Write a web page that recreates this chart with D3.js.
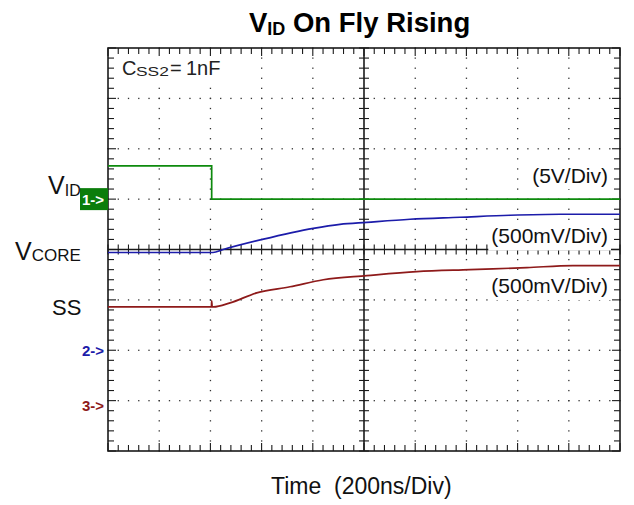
<!DOCTYPE html>
<html>
<head>
<meta charset="utf-8">
<script src="https://cdn.jsdelivr.net/npm/d3@7"></script>
<style>
  html, body { margin: 0; padding: 0; background: #fff; }
  svg { display: block; }
  text { font-family: "Liberation Sans", Arial, sans-serif; }
</style>
</head>
<body>
<svg id="chart" width="634" height="505"></svg>
<script>
// ---- data (time in ns, voltage in V) ----
const vidTime   = [0, 405, 405, 2000];
const vidVolt   = [3.3, 3.3, 0, 0];
const vcoreTime = [0, 410, 450, 603, 802, 906, 1011, 1180, 1375, 1570, 1766, 2000];
const vcoreVolt = [0.97, 0.97, 1.00, 1.10, 1.21, 1.25, 1.27, 1.30, 1.32, 1.34, 1.35, 1.35];
const ssTime    = [0, 404, 405, 407, 412, 477, 581, 711, 841, 1011, 1206, 1414, 1636, 1816, 2000];
const ssVolt    = [0.93, 0.93, 0.99, 0.93, 0.93, 0.97, 1.07, 1.13, 1.20, 1.24, 1.28, 1.30, 1.32, 1.34, 1.34];
const channelNames   = ["1->", "2->", "3->"];
const channelOffsets = [1, -2, -3];      // ground marker position in divisions
const channelScales  = [5, 0.5, 0.5];    // V per division
const scaleLabels    = ["(5V/Div)", "(500mV/Div)", "(500mV/Div)"];
const timeDomain = [0, 2000];             // 200 ns/div, 10 divisions
const divDomain  = [-4, 4];               // 8 vertical divisions

// ---- layout ----
const svg = d3.select("#chart");
const L = 108, R = 620, T = 48, B = 451;
const x = d3.scaleLinear().domain(timeDomain).range([L, R]);
const y = d3.scaleLinear().domain(divDomain).range([B, T]);
const green = "#0d8a0d", blue = "#1c1caa", red = "#8e1a1a", ink = "#1a1a1a";

const majorT = d3.range(0, 2001, 200);
const minorT = d3.range(0, 2001, 40);
const majorD = d3.range(-4, 4.001, 1);
const minorD = d3.range(-4, 4.001, 0.2).map(v => +v.toFixed(2));

// grid dots
const g = svg.append("g");
majorT.filter(t => t !== 0 && t !== 1000 && t !== 2000).forEach(t => {
  g.selectAll(null).data(minorD).enter().append("rect")
    .attr("x", x(t) - 0.6).attr("y", d => y(d) - 0.6).attr("width", 1.3).attr("height", 1.3).attr("fill", "#333");
});
majorD.filter(d => d !== -4 && d !== 0 && d !== 4).forEach(d => {
  g.selectAll(null).data(minorT).enter().append("rect")
    .attr("x", t => x(t) - 0.6).attr("y", y(d) - 0.6).attr("width", 1.3).attr("height", 1.3).attr("fill", "#333");
});

// frame
g.append("rect").attr("x", L).attr("y", T).attr("width", R - L).attr("height", B - T)
  .attr("fill", "none").attr("stroke", ink).attr("stroke-width", 1.6);

// edge ticks
const isMajT = t => t % 200 === 0;
const isMajD = d => Math.abs(d - Math.round(d)) < 1e-6;
g.selectAll(null).data(minorT).enter().append("line")
  .attr("x1", t => x(t)).attr("x2", t => x(t)).attr("y1", T).attr("y2", t => T + (isMajT(t) ? 8 : 6))
  .attr("stroke", ink).attr("stroke-width", 1.1);
g.selectAll(null).data(minorT).enter().append("line")
  .attr("x1", t => x(t)).attr("x2", t => x(t)).attr("y1", B).attr("y2", t => B - (isMajT(t) ? 8 : 6))
  .attr("stroke", ink).attr("stroke-width", 1.1);
g.selectAll(null).data(minorD).enter().append("line")
  .attr("y1", d => y(d)).attr("y2", d => y(d)).attr("x1", L).attr("x2", d => L + (isMajD(d) ? 8 : 6))
  .attr("stroke", ink).attr("stroke-width", 1.1);
g.selectAll(null).data(minorD).enter().append("line")
  .attr("y1", d => y(d)).attr("y2", d => y(d)).attr("x1", R).attr("x2", d => R - (isMajD(d) ? 8 : 6))
  .attr("stroke", ink).attr("stroke-width", 1.1);

// center crosshair
g.append("line").attr("x1", L).attr("x2", R).attr("y1", y(0)).attr("y2", y(0)).attr("stroke", ink).attr("stroke-width", 1.6);
g.append("line").attr("x1", x(1000)).attr("x2", x(1000)).attr("y1", T).attr("y2", B).attr("stroke", ink).attr("stroke-width", 1.6);
g.selectAll(null).data(minorT).enter().append("line")
  .attr("x1", t => x(t)).attr("x2", t => x(t)).attr("y1", y(0) - 5).attr("y2", y(0) + 5)
  .attr("stroke", ink).attr("stroke-width", 1.1);
g.selectAll(null).data(minorD).enter().append("line")
  .attr("y1", d => y(d)).attr("y2", d => y(d)).attr("x1", x(1000) - 5).attr("x2", x(1000) + 5)
  .attr("stroke", ink).attr("stroke-width", 1.1);

// scale labels with white backgrounds
const labelPos = [{b: 183, top: 164, h: 25}, {b: 243, top: 222, h: 28.5}, {b: 293, top: 270, h: 30}];
scaleLabels.forEach((s, i) => {
  const t = svg.append("text").attr("x", 608).attr("y", labelPos[i].b).attr("text-anchor", "end")
    .attr("font-size", 21).attr("fill", "#111").text(s);
  const bb = t.node().getBBox();
  svg.insert("rect", "text").attr("x", bb.x - 3).attr("y", labelPos[i].top)
    .attr("width", bb.width + 6).attr("height", labelPos[i].h).attr("fill", "#fff");
});

// traces
const series = [
  {t: vidTime, v: vidVolt, ch: 0, color: green, curve: d3.curveLinear},
  {t: vcoreTime, v: vcoreVolt, ch: 1, color: blue, curve: d3.curveMonotoneX},
  {t: ssTime, v: ssVolt, ch: 2, color: red, curve: d3.curveMonotoneX}
];
series.forEach(s => {
  const pts = s.t.map((t, i) => [t, s.v[i]]);
  const line = d3.line()
    .x(d => x(d[0]))
    .y(d => y(channelOffsets[s.ch] + d[1] / channelScales[s.ch]))
    .curve(s.curve);
  svg.append("path").attr("d", line(pts)).attr("fill", "none")
    .attr("stroke", s.color).attr("stroke-width", 1.7);
});

// channel markers
const m1 = y(channelOffsets[0]);
svg.append("path").attr("d", `M80,${m1 - 11}H108V${m1 + 11}H80Z`).attr("fill", "#0b7d0b");
svg.append("text").attr("x", 82).attr("y", m1 + 5.5).attr("font-size", 15).attr("font-weight", "bold").attr("fill", "#fff").text(channelNames[0]);
svg.append("text").attr("x", 82).attr("y", y(channelOffsets[1]) + 6).attr("font-size", 15).attr("font-weight", "bold").attr("fill", blue).text(channelNames[1]);
svg.append("text").attr("x", 82).attr("y", y(channelOffsets[2]) + 10.5).attr("font-size", 15).attr("font-weight", "bold").attr("fill", red).text(channelNames[2]);

// left labels
const vid = svg.append("text").attr("x", 48).attr("y", 194).attr("fill", "#111");
vid.append("tspan").attr("font-size", 25).text("V");
vid.append("tspan").attr("font-size", 16).attr("dy", 2).text("ID");
const vc = svg.append("text").attr("x", 15).attr("y", 260).attr("fill", "#111");
vc.append("tspan").attr("font-size", 25).text("V");
vc.append("tspan").attr("font-size", 17).attr("dy", 1).text("CORE");
svg.append("text").attr("x", 52).attr("y", 315).attr("font-size", 22).attr("fill", "#111").text("SS");

// Css2 label
svg.append("rect").attr("x", 120).attr("y", 57).attr("width", 104).attr("height", 24).attr("fill", "#fff");
svg.append("text").attr("x", 122).attr("y", 75).attr("font-size", 20).attr("fill", "#222").text("C");
svg.append("text").attr("transform", "translate(136,76) scale(1.45,1)").attr("font-size", 12).attr("fill", "#222").text("SS2");
svg.append("text").attr("x", 170).attr("y", 75).attr("font-size", 20).attr("fill", "#222").text("=");
svg.append("text").attr("x", 186).attr("y", 75).attr("font-size", 20).attr("fill", "#222").text("1nF");

// title
const title = svg.append("text").attr("x", 249).attr("y", 32).attr("font-weight", "bold").attr("fill", "#000");
title.append("tspan").attr("font-size", 27.5).text("V");
title.append("tspan").attr("font-size", 18).attr("dy", 3).text("ID");
title.append("tspan").attr("font-size", 27.5).attr("dy", -3).text(" On Fly Rising");

// x label
svg.append("text").attr("x", 271).attr("y", 494).attr("font-size", 23).attr("fill", "#111").text("Time  (200ns/Div)")
  .attr("xml:space", "preserve").style("white-space", "pre");
</script>
</body>
</html>
